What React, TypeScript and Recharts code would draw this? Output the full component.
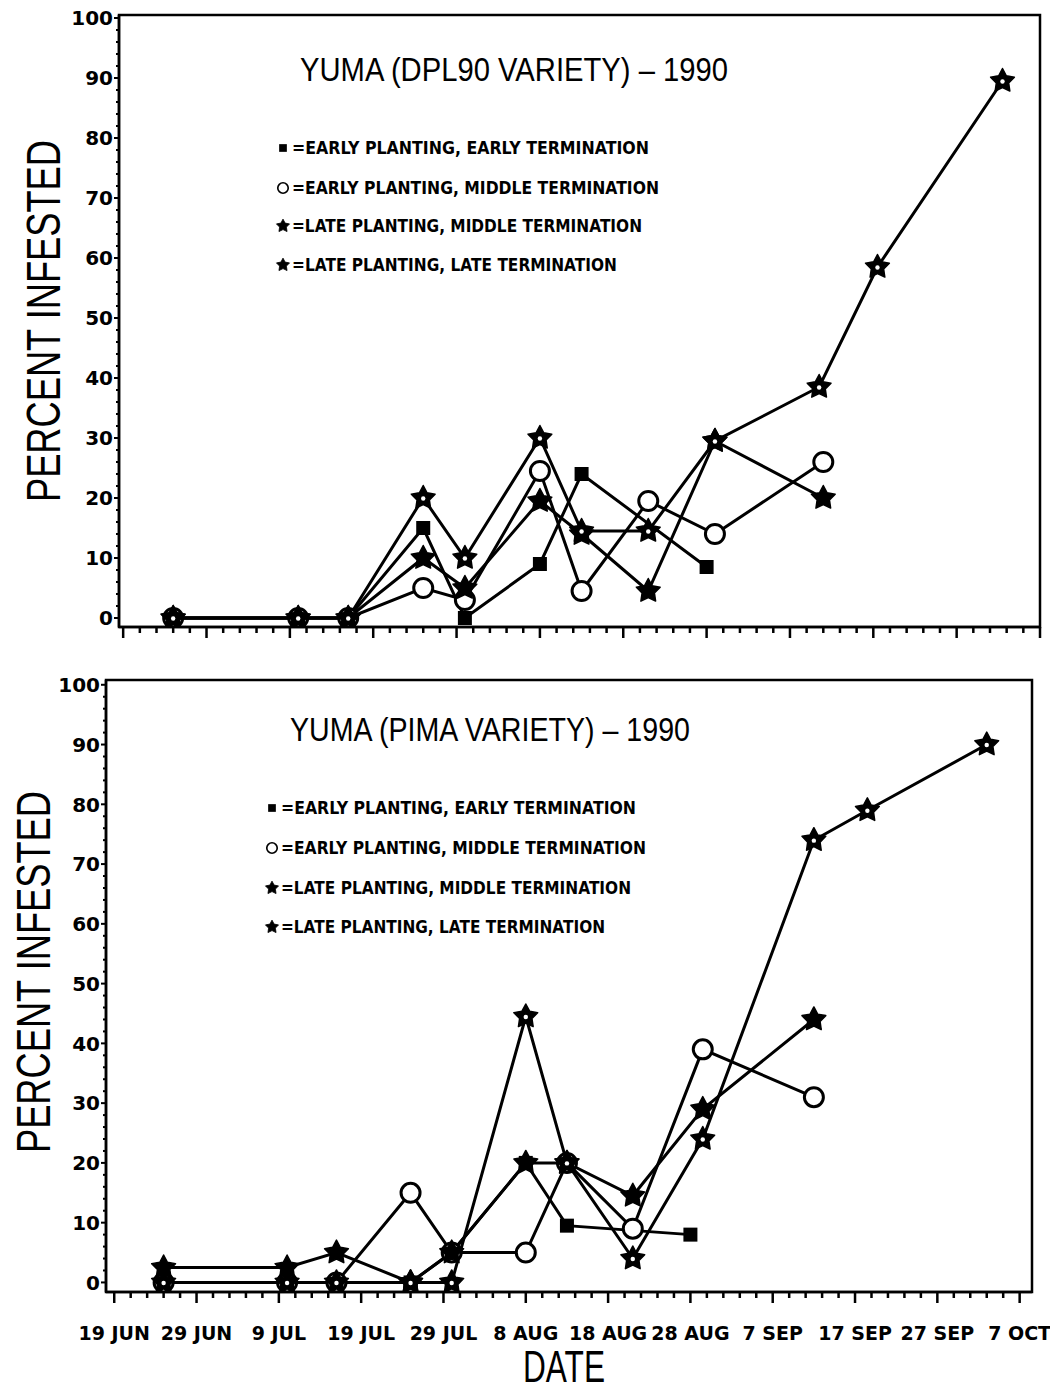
import React from "react";
import { LineChart, Line, XAxis, YAxis, Legend, Label, ReferenceArea } from "recharts";

// x values are days counted from 19 June 1990
const dateTicks = [0, 10, 20, 30, 40, 50, 60, 70, 80, 90, 100, 110];
const dateLabels = ["19 JUN", "29 JUN", "9 JUL", "19 JUL", "29 JUL", "8 AUG", "18 AUG", "28 AUG", "7 SEP", "17 SEP", "27 SEP", "7 OCT"];
const dayTicks = Array.from({ length: 56 }, (_, i) => i * 2);
const percentTicks = Array.from({ length: 51 }, (_, i) => i * 2);

const treatmentNames = [
  "=EARLY PLANTING, EARLY TERMINATION",
  "=EARLY PLANTING, MIDDLE TERMINATION",
  "=LATE PLANTING, MIDDLE TERMINATION",
  "=LATE PLANTING, LATE TERMINATION",
];

// YUMA (DPL90 VARIETY) - 1990
const dplEarlyEarlyDays = [6, 21, 27, 36, 41, 50, 55, 70];
const dplEarlyEarly = [0, 0, 0, 15, 0, 9, 24, 8.5];
const dplEarlyMiddleDays = [6, 21, 27, 36, 41, 50, 55, 63, 71, 84];
const dplEarlyMiddle = [0, 0, 0, 5, 3, 24.5, 4.5, 19.5, 14, 26];
const dplLateMiddleDays = [6, 21, 27, 36, 41, 50, 55, 63, 71, 84];
const dplLateMiddle = [0, 0, 0, 10, 5, 19.5, 14, 4.5, 29.5, 20];
const dplLateLateDays = [6, 21, 27, 36, 41, 50, 55, 63, 71, 83.5, 90.5, 105.5];
const dplLateLate = [0, 0, 0, 20, 10, 30, 14.5, 14.5, 29.5, 38.5, 58.5, 89.5];

// YUMA (PIMA VARIETY) - 1990
const pimaEarlyEarlyDays = [6, 21, 27, 36, 41, 50, 55, 70];
const pimaEarlyEarly = [0, 0, 0, 0, 5, 20, 9.5, 8];
const pimaEarlyMiddleDays = [6, 21, 27, 36, 41, 50, 55, 63, 71.5, 85];
const pimaEarlyMiddle = [0, 0, 0, 15, 5, 5, 20, 9, 39, 31];
const pimaLateMiddleDays = [6, 21, 27, 36, 41, 50, 55, 63, 71.5, 85];
const pimaLateMiddle = [2.5, 2.5, 5, 0, 5, 20, 20, 14.5, 29, 44];
const pimaLateLateDays = [6, 21, 27, 36, 41, 50, 55, 63, 71.5, 85, 91.5, 106];
const pimaLateLate = [0, 0, 0, 0, 0, 44.5, 20, 4, 24, 74, 79, 90];

const zip = (days: number[], vals: number[]) => days.map((d, i) => ({ day: d, pct: vals[i] }));

const dplSeries = [
  zip(dplEarlyEarlyDays, dplEarlyEarly),
  zip(dplEarlyMiddleDays, dplEarlyMiddle),
  zip(dplLateMiddleDays, dplLateMiddle),
  zip(dplLateLateDays, dplLateLate),
];
const pimaSeries = [
  zip(pimaEarlyEarlyDays, pimaEarlyEarly),
  zip(pimaEarlyMiddleDays, pimaEarlyMiddle),
  zip(pimaLateMiddleDays, pimaLateMiddle),
  zip(pimaLateLateDays, pimaLateLate),
];

const BOLD = "'DejaVu Sans', Verdana, sans-serif";
const PLAIN = "'Liberation Sans', Arial, sans-serif";

function starPath(cx: number, cy: number, R: number, r: number) {
  let d = "";
  for (let i = 0; i < 10; i++) {
    const rad = i % 2 === 0 ? R : r;
    const a = -Math.PI / 2 + (i * Math.PI) / 5;
    d += (i === 0 ? "M" : "L") + (cx + rad * Math.cos(a)).toFixed(2) + "," + (cy + rad * Math.sin(a)).toFixed(2);
  }
  return d + "Z";
}

function Marker({ kind, cx, cy, s = 1 }: { kind: number; cx: number; cy: number; s?: number }) {
  if (kind === 0) return <rect x={cx - 7 * s} y={cy - 7 * s} width={14 * s} height={14 * s} fill="#000" />;
  if (kind === 1) return <circle cx={cx} cy={cy} r={9.5 * s} fill="#fff" stroke="#000" strokeWidth={3 * s} />;
  if (kind === 2)
    return <path d={starPath(cx, cy, 12.5 * s, 6.5 * s)} fill="#000" stroke="#000" strokeWidth={1.5 * s} strokeLinejoin="round" />;
  // late/late star: heavy star with a small open centre
  return (
    <g>
      <path d={starPath(cx, cy, 12.5 * s, 6.5 * s)} fill="#000" stroke="#000" strokeWidth={1.5 * s} strokeLinejoin="round" />
      {s >= 1 && <circle cx={cx} cy={cy + 0.5} r={2.2} fill="#fff" />}
    </g>
  );
}

const makeXTick = (showLabel: boolean) => (props: any) => {
  const { x, y, payload } = props;
  const idx = dateTicks.indexOf(payload.value);
  const major = idx >= 0;
  return (
    <g>
      <line x1={x} x2={x} y1={y} y2={y + (major ? 11 : 6)} stroke="#000" strokeWidth={2.5} />
      {showLabel && major && (
        <text x={x} y={y + 48} textAnchor="middle" fontFamily={BOLD} fontWeight="bold" fontSize={19} fill="#000">
          {dateLabels[idx]}
        </text>
      )}
    </g>
  );
};

const YTick = (props: any) => {
  const { x, y, payload } = props;
  const major = payload.value % 10 === 0;
  return (
    <g>
      <line x1={x} x2={x - (major ? 5 : 3)} y1={y} y2={y} stroke="#000" strokeWidth={2} />
      {major && (
        <text x={x - 6} y={y} dy="0.36em" textAnchor="end" fontFamily={BOLD} fontWeight="bold" fontSize={20} fill="#000">
          {payload.value}
        </text>
      )}
    </g>
  );
};

function PanelLegend(props: {
  title: string;
  titleX: number;
  titleLen: number;
  markerX: number;
  textX: number;
  rows: number[];
  lens: number[];
}) {
  const { title, titleX, titleLen, markerX, textX, rows, lens } = props;
  return (
    <svg width={1050} height={300} style={{ display: "block" }}>
      <text x={titleX} y={81} fontFamily={PLAIN} fontSize={33} textLength={titleLen} lengthAdjust="spacingAndGlyphs" fill="#000">
        {title}
      </text>
      {treatmentNames.map((name, i) => (
        <g key={name}>
          <Marker kind={i} cx={markerX} cy={rows[i]} s={0.55} />
          <text
            x={textX}
            y={rows[i]}
            dy="0.36em"
            fontFamily={BOLD}
            fontWeight="bold"
            fontSize={17}
            textLength={lens[i]}
            lengthAdjust="spacingAndGlyphs"
            fill="#000"
          >
            {name}
          </text>
        </g>
      ))}
    </svg>
  );
}

function Panel(props: {
  series: { day: number; pct: number }[][];
  height: number;
  margin: { top: number; right: number; bottom: number; left: number };
  yWidth: number;
  xHeight: number;
  dayDomain: number[];
  pctDomain: number[];
  showDates: boolean;
  legend: React.ReactElement;
  yLabelX: number;
  yLabelDy: number;
}) {
  const { series, height, margin, yWidth, xHeight, dayDomain, pctDomain, showDates, legend, yLabelX, yLabelDy } = props;
  return (
    <LineChart width={1050} height={height} margin={margin}>
      <XAxis
        type="number"
        dataKey="day"
        domain={dayDomain}
        ticks={dayTicks.filter((t) => t >= dayDomain[0] && t <= dayDomain[1])}
        interval={0}
        tickSize={0}
        tickMargin={0}
        height={xHeight}
        axisLine={{ stroke: "#000", strokeWidth: 2.5 }}
        tickLine={false}
        tick={makeXTick(showDates)}
        allowDataOverflow
      >
        {showDates && (
          <Label
            content={(p: any) => {
              const vb = p.viewBox;
              return (
                <text
                  x={vb.x + vb.width / 2 - 5}
                  y={vb.y + 90}
                  textAnchor="middle"
                  fontFamily={PLAIN}
                  fontSize={44}
                  textLength={82}
                  lengthAdjust="spacingAndGlyphs"
                  fill="#000"
                >
                  DATE
                </text>
              );
            }}
          />
        )}
      </XAxis>
      <YAxis
        type="number"
        domain={pctDomain}
        ticks={percentTicks}
        interval={0}
        tickSize={0}
        tickMargin={0}
        width={yWidth}
        axisLine={{ stroke: "#000", strokeWidth: 2.5 }}
        tickLine={false}
        tick={YTick}
        allowDataOverflow
      >
        <Label
          content={(p: any) => {
            const vb = p.viewBox;
            const cy = vb.y + vb.height / 2 + yLabelDy;
            return (
              <text
                x={yLabelX}
                y={cy}
                transform={`rotate(-90 ${yLabelX} ${cy})`}
                textAnchor="middle"
                dy="0.36em"
                fontFamily={PLAIN}
                fontSize={48}
                textLength={362}
                lengthAdjust="spacingAndGlyphs"
                fill="#000"
              >
                PERCENT INFESTED
              </text>
            );
          }}
        />
      </YAxis>
      <ReferenceArea
        x1={dayDomain[0]}
        x2={dayDomain[1]}
        y1={pctDomain[0]}
        y2={pctDomain[1]}
        fill="none"
        stroke="#000"
        strokeWidth={2.5}
        ifOverflow="visible"
      />
      <Legend
        layout="horizontal"
        verticalAlign="middle"
        align="center"
        wrapperStyle={{ top: 0, left: 0, width: 1050, height: 300, margin: 0, padding: 0 }}
        content={() => legend}
      />
      {series.map((data, k) => (
        <Line
          key={treatmentNames[k]}
          name={treatmentNames[k]}
          data={data}
          dataKey="pct"
          type="linear"
          stroke="#000"
          strokeWidth={3}
          isAnimationActive={false}
          activeDot={false}
          dot={(p: any) => <Marker key={`${k}-${p.index}`} kind={k} cx={p.cx} cy={p.cy} />}
        />
      ))}
    </LineChart>
  );
}

export default function App() {
  return (
    <div style={{ position: "absolute", left: 0, top: 0, width: 1050, height: 1393, background: "#fff" }}>
      <div style={{ position: "absolute", left: 0, top: 0 }}>
        <Panel
          series={dplSeries}
          height={660}
          margin={{ top: 15, right: 10, bottom: 0, left: 0 }}
          yWidth={119}
          xHeight={33}
          dayDomain={[-0.5, 110]}
          pctDomain={[-1.5, 100.5]}
          showDates={false}
          yLabelX={43}
          yLabelDy={0}
          legend={
            <PanelLegend
              title="YUMA (DPL90 VARIETY) – 1990"
              titleX={300}
              titleLen={428}
              markerX={283}
              textX={292}
              rows={[148, 188, 226, 265]}
              lens={[357, 367, 350, 325]}
            />
          }
        />
      </div>
      <div style={{ position: "absolute", left: 0, top: 660 }}>
        <Panel
          series={pimaSeries}
          height={733}
          margin={{ top: 20, right: 18, bottom: 0, left: 0 }}
          yWidth={106}
          xHeight={101}
          dayDomain={[-1, 111.5]}
          pctDomain={[-1.6, 100.8]}
          showDates={true}
          yLabelX={33}
          yLabelDy={-14}
          legend={
            <PanelLegend
              title="YUMA (PIMA VARIETY) – 1990"
              titleX={290}
              titleLen={400}
              markerX={272}
              textX={281}
              rows={[148, 188, 228, 267]}
              lens={[355, 365, 350, 324]}
            />
          }
        />
      </div>
    </div>
  );
}
